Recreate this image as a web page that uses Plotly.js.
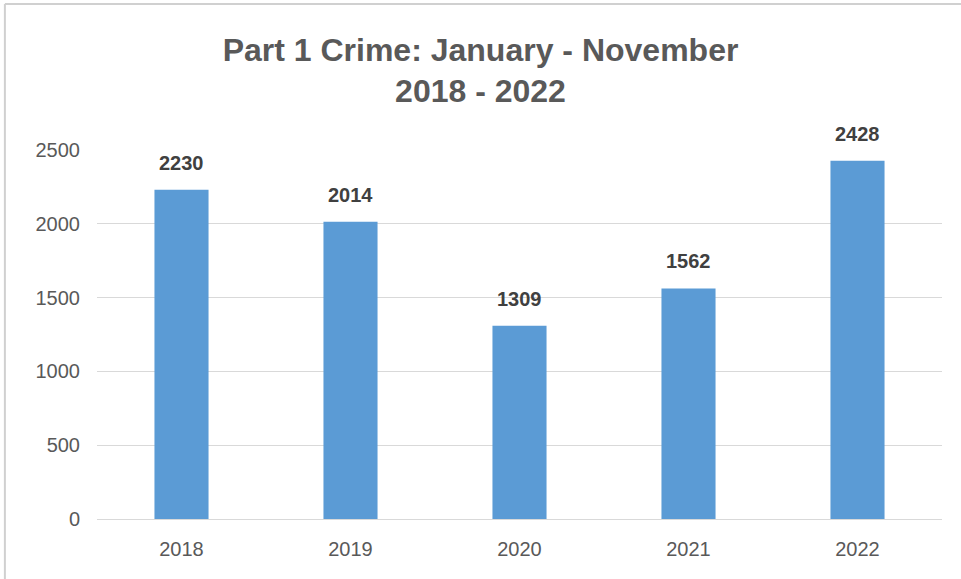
<!DOCTYPE html>
<html>
<head>
<meta charset="utf-8">
<script src="https://cdn.plot.ly/plotly-3.0.1.min.js"></script>
<style>html,body{margin:0;padding:0;background:#fff;}</style>
</head>
<body>
<div id="chart" style="width:961px;height:579px;"></div>
<script>
const years = ["2018", "2019", "2020", "2021", "2022"];
const crimes = [2230, 2014, 1309, 1562, 2428];
const yTicks = [0, 500, 1000, 1500, 2000, 2500];

const trace = {
  type: 'bar',
  x: years,
  y: crimes,
  marker: {color: '#5B9BD5'},
  hoverinfo: 'x+y'
};

const annotations = years.map((yr, i) => ({
  x: i, y: crimes[i], xref: 'x', yref: 'y',
  text: '<b>' + crimes[i] + '</b>',
  showarrow: false, yanchor: 'bottom', yshift: 14,
  font: {family: 'Liberation Sans, Arial, sans-serif', size: 20, color: '#404040'}
}));

const layout = {
  width: 961, height: 579,
  margin: {l: 97, r: 19, t: 150, b: 60},
  paper_bgcolor: '#fff', plot_bgcolor: '#fff',
  title: {
    text: '<b>Part 1 Crime: January - November<br>2018 - 2022</b>',
    font: {family: 'Liberation Sans, Arial, sans-serif', size: 32, color: '#595959'},
    x: 0.5, xanchor: 'center', y: 0.895, yanchor: 'top'
  },
  bargap: 0.68,
  showlegend: false,
  xaxis: {
    type: 'category',
    range: [-0.5, 4.5],
    showgrid: false,
    showline: true, linecolor: '#d9d9d9', linewidth: 1,
    ticks: '', ticklabelstandoff: 12,
    tickfont: {family: 'Liberation Sans, Arial, sans-serif', size: 20, color: '#595959'}
  },
  yaxis: {
    range: [0, 2500],
    tickvals: yTicks,
    showgrid: true, gridcolor: '#d9d9d9', gridwidth: 1,
    zeroline: false, showline: false,
    ticks: '', ticklabelstandoff: 16,
    tickfont: {family: 'Liberation Sans, Arial, sans-serif', size: 20, color: '#595959'}
  },
  annotations: annotations,
  shapes: [
    {type: 'line', xref: 'paper', yref: 'paper', x0: -0.109, x1: 1.03, y0: 1.396, y1: 1.396, line: {color: '#d0d0d0', width: 2}},
    {type: 'line', xref: 'paper', yref: 'paper', x0: -0.109, x1: -0.109, y0: 1.396, y1: -0.2, line: {color: '#d0d0d0', width: 2}}
  ]
};

Plotly.newPlot('chart', [trace], layout, {displayModeBar: false, staticPlot: true});
</script>
</body>
</html>
